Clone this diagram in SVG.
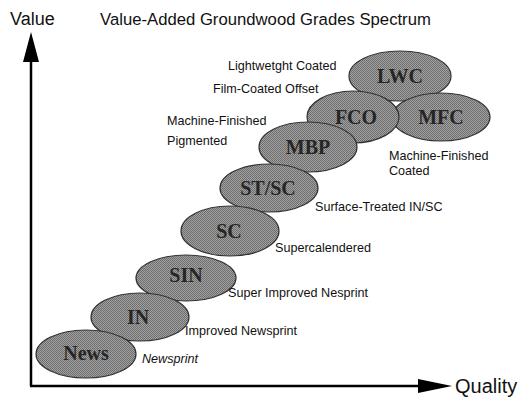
<svg xmlns="http://www.w3.org/2000/svg" width="526" height="401" viewBox="0 0 526 401">
<defs>
<pattern id="ht" width="2" height="2" patternUnits="userSpaceOnUse">
<rect width="2" height="2" fill="#a2a2a2"/>
<rect width="1" height="1" fill="#6a6a6a"/>
<rect x="1" y="1" width="1" height="1" fill="#707070"/>
</pattern>
</defs>
<style>
.e{fill:url(#ht);stroke:#333;stroke-width:1.2}
.n{font-family:"Liberation Serif","Times New Roman",serif;font-weight:bold;font-size:20px;fill:#262626;text-anchor:middle}
.l{font-family:"Liberation Sans",Arial,sans-serif;font-size:12.6px;fill:#111}
.ax{stroke:#000;stroke-width:2.5;fill:none}
.t{font-family:"Liberation Sans",Arial,sans-serif;fill:#111}
</style>
<rect width="526" height="401" fill="#fff"/>
<g id="axes">
<line class="ax" x1="31" y1="60" x2="31" y2="386"/>
<polygon points="23,62 31,32 39,62" fill="#000"/>
<line class="ax" x1="30" y1="386" x2="420" y2="386"/>
<polygon points="418,379 452,386 418,393" fill="#000"/>
</g>
<text class="t" x="10" y="25" font-size="18">Value</text>
<text class="t" x="100" y="25" font-size="16.7">Value-Added Groundwood Grades Spectrum</text>
<text class="t" x="455" y="393" font-size="20">Quality</text>
<g id="LWC"><ellipse class="e" cx="400" cy="76" rx="51" ry="25"/><text class="n" x="400" y="83">LWC</text></g>
<g id="MFC"><ellipse class="e" cx="441" cy="117" rx="49" ry="24"/><text class="n" x="441" y="124">MFC</text></g>
<g id="FCO"><ellipse class="e" cx="353" cy="117" rx="46" ry="26"/><text class="n" x="356" y="124">FCO</text></g>
<g id="MBP"><ellipse class="e" cx="308" cy="147" rx="49" ry="25"/><text class="n" x="308" y="154">MBP</text></g>
<g id="STSC"><ellipse class="e" cx="269" cy="188" rx="49" ry="24"/><text class="n" x="268" y="195">ST/SC</text></g>
<g id="SC"><ellipse class="e" cx="230" cy="231" rx="49" ry="25"/><text class="n" x="229" y="238">SC</text></g>
<g id="SIN"><ellipse class="e" cx="186" cy="278" rx="50" ry="23"/><text class="n" x="186" y="282">SIN</text></g>
<g id="IN"><ellipse class="e" cx="140" cy="317" rx="49" ry="24"/><text class="n" x="138" y="324">IN</text></g>
<g id="News"><ellipse class="e" cx="86" cy="354" rx="50" ry="24"/><text class="n" x="86" y="360">News</text></g>
<g id="labels">
<text class="l" x="228" y="70">Lightwetght Coated</text>
<text class="l" x="213" y="93">Film-Coated Offset</text>
<text class="l" x="167" y="125">Machine-Finished</text>
<text class="l" x="167" y="145">Pigmented</text>
<text class="l" x="389" y="160">Machine-Finished</text>
<text class="l" x="389" y="175">Coated</text>
<text class="l" x="315" y="211">Surface-Treated IN/SC</text>
<text class="l" x="275" y="252">Supercalendered</text>
<text class="l" x="228" y="297">Super Improved Nesprint</text>
<text class="l" x="185" y="335">Improved Newsprint</text>
<text class="l" x="142" y="363" font-style="italic">Newsprint</text>
</g>
</svg>
